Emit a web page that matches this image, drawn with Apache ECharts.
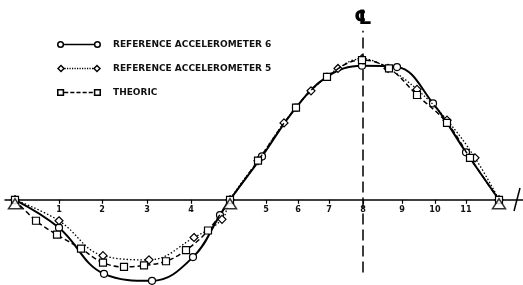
<!DOCTYPE html>
<html>
<head>
<meta charset="utf-8">
<script src="https://cdn.jsdelivr.net/npm/echarts@6/dist/echarts.min.js"></script>
<style>
  html, body { margin: 0; padding: 0; background: #fff; }
  #chart { width: 523px; height: 285px; }
</style>
</head>
<body>
<div id="chart"></div>
<script>
// stations along the track (horizontal distance units) and their labels
const stationPos = [44, 87, 132, 176, 251, 283, 314, 348, 387, 420, 451]
const stationLabels = ['1', '2', '3', '4', '5', '6', '7', '8', '9', '10', '11']

// supports (triangles) and centre line
const supportPos = [0, 215, 484]
const centreLinePos = 348

// reference accelerometer 6 (solid)
const acc6X = [0, 44, 89, 137, 178, 205, 215, 247, 281, 312, 347, 382, 418, 451, 484]
const acc6Y = [0, -20, -53, -58, -41, -11, 0, 31, 66, 88, 96, 95, 69, 34, 0]

// reference accelerometer 5 (dotted)
const acc5X = [0, 44, 88, 134, 179, 207, 215, 243, 269, 296, 323, 347, 373, 402, 432, 460, 484]
const acc5Y = [0, -15, -40, -43, -27, -14, 0, 28, 55, 78, 94, 101, 94, 79, 57, 30, 0]

// theoric (dashed)
const theoX = [0, 21, 42, 66, 88, 109, 129, 151, 171, 193, 215, 243, 281, 312, 347, 374, 402, 432, 455, 484]
const theoY = [0, -15, -25, -35, -45, -48, -47, -44, -36, -22, 0, 28, 66, 88, 100, 94, 75, 55, 30, 0]

const names = ['REFERENCE ACCELEROMETER 6', 'REFERENCE ACCELEROMETER 5', 'THEORIC']

const yMin = -61
const yMax = 143
const chartH = 285

function zip(xs, ys) {
  return xs.map((x, i) => [x, ys[i]])
}

// legend icons: marker - line - marker, drawn in a 44x8 box
function marker(cx, kind) {
  if (kind === 'circle') {
    return `M${cx - 3.5},4 A3.5,3.5 0 1 1 ${cx + 3.5},4 A3.5,3.5 0 1 1 ${cx - 3.5},4 Z ` +
      `M${cx - 2},4 A2,2 0 1 0 ${cx + 2},4 A2,2 0 1 0 ${cx - 2},4 Z `
  }
  if (kind === 'diamond') {
    return `M${cx - 4},4 L${cx},0 L${cx + 4},4 L${cx},8 Z ` +
      `M${cx - 2},4 L${cx},6 L${cx + 2},4 L${cx},2 Z `
  }
  return `M${cx - 3.5},0.5 L${cx + 3.5},0.5 L${cx + 3.5},7.5 L${cx - 3.5},7.5 Z ` +
    `M${cx - 2},2 L${cx - 2},6 L${cx + 2},6 L${cx + 2},2 Z `
}

function segs(dash, gap) {
  let p = ''
  for (let x = 7.5; x < 36.5; x += dash + gap) {
    const e = Math.min(x + dash, 36.5)
    p += `M${x},3.3 L${e},3.3 L${e},4.7 L${x},4.7 Z `
  }
  return p
}

function icon(kind, dash, gap) {
  return 'path://' + marker(4, kind) + segs(dash, gap) + marker(40, kind)
}

const chart = echarts.init(document.getElementById('chart'))

const symbolStyle = { color: '#fff', borderColor: '#000', borderWidth: 1.2 }

// put the x axis on y = 0 (moves line, ticks and labels together)
const axisOffset = -chartH * (0 - yMin) / (yMax - yMin)

const option = {
  animation: false,
  backgroundColor: '#fff',
  grid: { left: 5, right: 0, top: 0, bottom: 0, outerBoundsMode: 'none' },
  legend: {
    orient: 'vertical',
    left: 52,
    top: 35,
    itemWidth: 44,
    itemHeight: 8,
    itemGap: 15,
    itemStyle: { color: '#000', borderWidth: 0 },
    textStyle: {
      fontFamily: 'DejaVu Sans',
      fontWeight: 'bold',
      fontSize: 9,
      color: '#111',
      padding: [0, 0, 0, 7]
    },
    data: [
      { name: names[0], icon: icon('circle', 29, 0) },
      { name: names[1], icon: icon('diamond', 1.2, 1.3) },
      { name: names[2], icon: icon('square', 4, 2) }
    ]
  },
  xAxis: {
    type: 'value',
    min: -10,
    max: 508,
    position: 'bottom',
    offset: axisOffset,
    axisLine: { onZero: false, lineStyle: { color: '#000', width: 1.5 } },
    axisTick: {
      show: true,
      customValues: stationPos,
      length: 4,
      lineStyle: { color: '#000', width: 1.2 }
    },
    axisLabel: {
      customValues: stationPos,
      formatter: (v) => stationLabels[stationPos.indexOf(v)],
      margin: 5,
      fontFamily: 'DejaVu Sans Condensed',
      fontWeight: 'bold',
      fontSize: 9,
      color: '#111'
    },
    splitLine: { show: false }
  },
  yAxis: {
    type: 'value',
    min: yMin,
    max: yMax,
    show: false
  },
  graphic: [{
    type: 'line',
    shape: { x1: 514, y1: 211, x2: 520, y2: 188 },
    style: { stroke: '#000', lineWidth: 1.5 }
  }],
  series: [
    {
      name: names[0],
      type: 'line',
      data: zip(acc6X, acc6Y),
      smooth: 0.4,
      symbol: 'circle',
      symbolSize: 7,
      itemStyle: symbolStyle,
      lineStyle: { color: '#000', width: 2 },
      z: 3,
      markLine: {
        silent: true,
        symbol: 'none',
        lineStyle: { color: '#000', width: 1.5, type: [11, 5] },
        label: {
          position: 'end',
          formatter: '℄',
          fontFamily: 'DejaVu Sans',
          fontWeight: 'bold',
          fontSize: 20,
          color: '#000',
          distance: 2
        },
        data: [[{ coord: [centreLinePos, -52] }, { coord: [centreLinePos, 121] }]]
      }
    },
    {
      name: names[1],
      type: 'line',
      data: zip(acc5X, acc5Y),
      smooth: 0.4,
      symbol: 'diamond',
      symbolSize: 8,
      itemStyle: symbolStyle,
      lineStyle: { color: '#000', width: 1.3, type: [1.5, 2] },
      z: 4
    },
    {
      name: names[2],
      type: 'line',
      data: zip(theoX, theoY),
      smooth: 0.4,
      symbol: 'rect',
      symbolSize: 7,
      itemStyle: symbolStyle,
      lineStyle: { color: '#000', width: 1.5, type: [5, 3] },
      z: 5
    },
    {
      name: 'supports',
      type: 'scatter',
      data: supportPos.map(x => [x, 0]),
      symbol: 'triangle',
      symbolSize: [13, 10],
      symbolOffset: [0, 4],
      itemStyle: { color: '#fff', borderColor: '#000', borderWidth: 1.5 },
      z: 6
    }
  ]
}

chart.setOption(option)
</script>
</body>
</html>
